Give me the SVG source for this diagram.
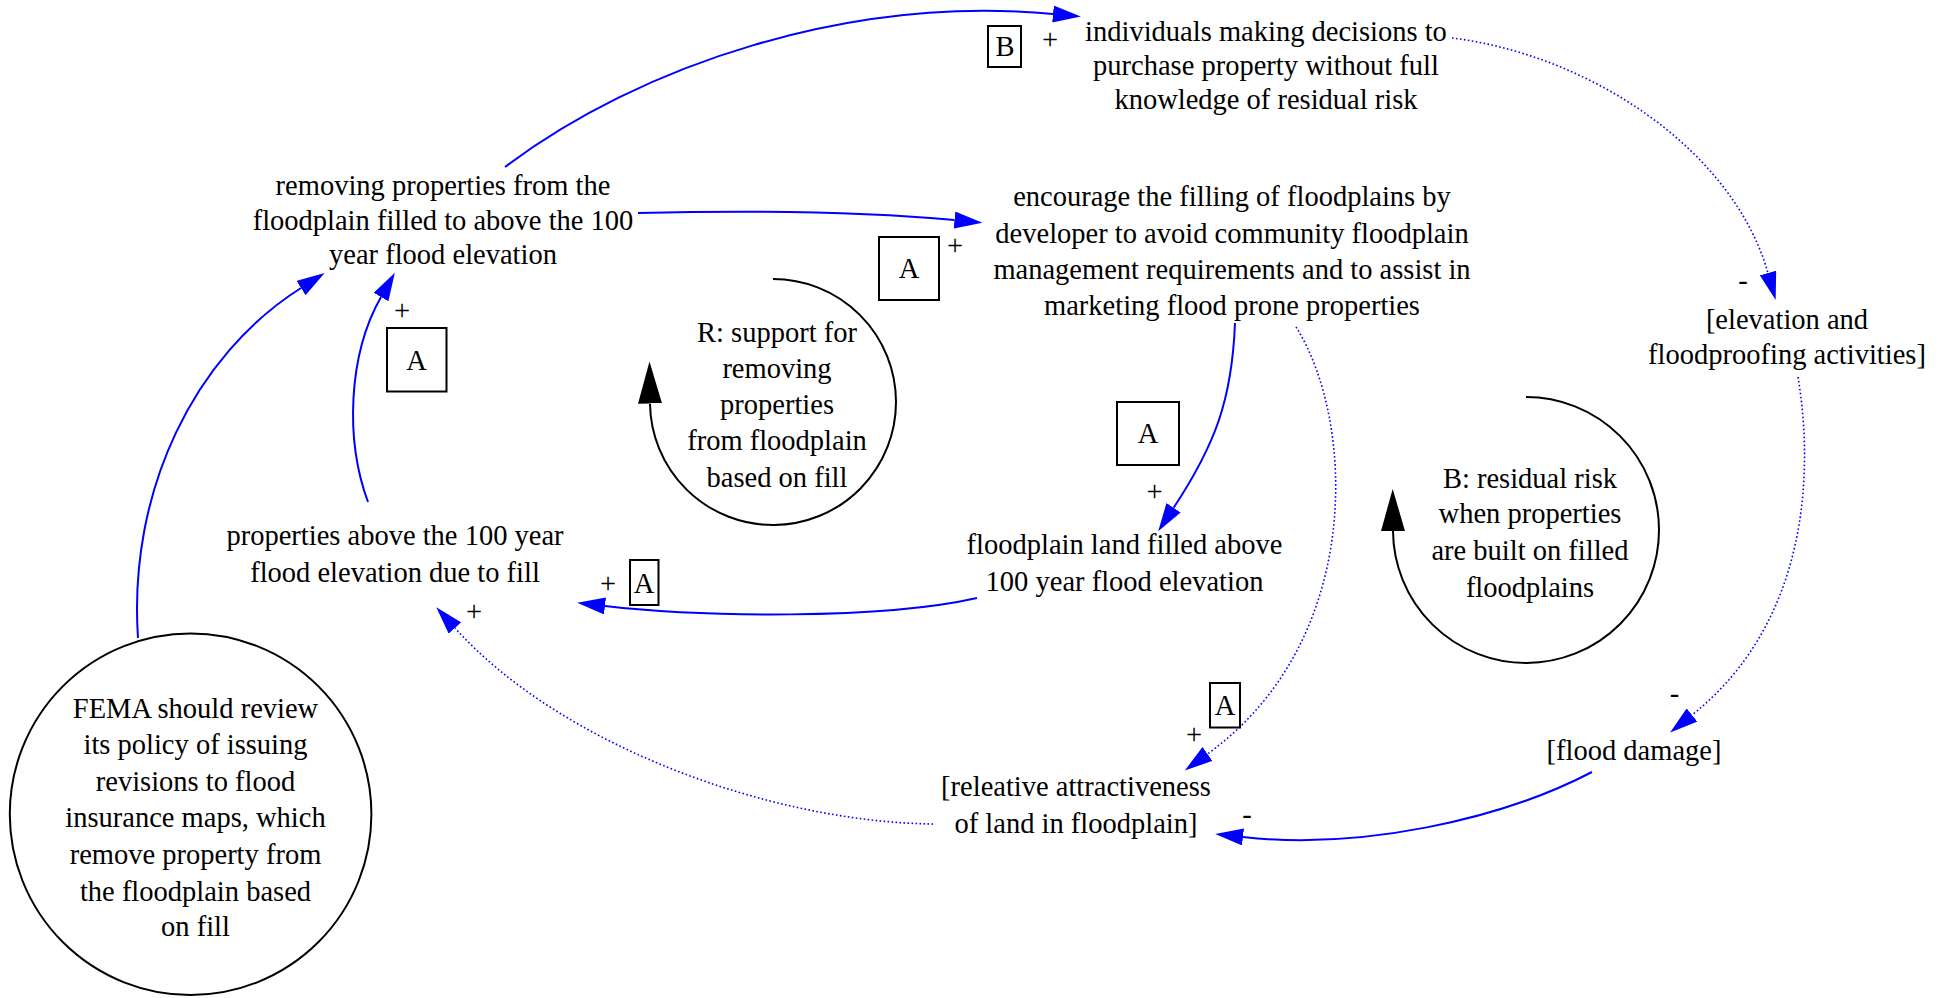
<svg xmlns="http://www.w3.org/2000/svg" width="1944" height="998" viewBox="0 0 1944 998">
<style>
text{font-family:"Liberation Serif","Times New Roman",serif;font-size:28.5px;fill:#000;text-anchor:middle}
.e{fill:none;stroke:#0000ff;stroke-width:2}
.d{fill:none;stroke:#0000ff;stroke-width:1.6;stroke-dasharray:1.6 2.4}
.loop{fill:none;stroke:#000;stroke-width:2}
.box{fill:none;stroke:#000;stroke-width:2}
</style>
<defs>
<marker id="ah" viewBox="0 0 28 17" refX="0" refY="8.5" markerWidth="28" markerHeight="17" markerUnits="userSpaceOnUse" orient="auto">
<path d="M0,0 L28,8.5 L0,17 z" fill="#0000ff"/>
</marker>
<marker id="lh" viewBox="0 0 42 24" refX="0" refY="12" markerWidth="42" markerHeight="24" markerUnits="userSpaceOnUse" orient="auto">
<path d="M0,0 L42,12 L0,24 z" fill="#000"/>
</marker>
</defs>
<rect width="1944" height="998" fill="#fff"/>

<g id="connectors">
<path id="e1" class="e" d="M505,167 C640,65 850,-5 1053,14" marker-end="url(#ah)"/>
<path id="e2" class="e" d="M638,213 C760,210 870,212 954.5,220" marker-end="url(#ah)"/>
<path id="e3" class="e" d="M138,638 C128,490 195,355 301,288" marker-end="url(#ah)"/>
<path id="e4" class="e" d="M368,502 C345,440 348,355 381,297" marker-end="url(#ah)"/>
<path id="e5" class="e" d="M977,598 C880,620 700,617 605,606" marker-end="url(#ah)"/>
<path id="e6" class="d" d="M933,824 C770,822 560,745 455,628" marker-end="url(#ah)"/>
<path id="e7" class="e" d="M1235,323 C1232,400 1215,445 1173.6,507.8" marker-end="url(#ah)"/>
<path id="e8" class="d" d="M1296,327 C1355,420 1365,640 1207.5,754" marker-end="url(#ah)"/>
<path id="e9" class="d" d="M1452,38 C1590,55 1733,150 1768,273" marker-end="url(#ah)"/>
<path id="e10" class="d" d="M1798,377 C1815,480 1805,625 1692,715" marker-end="url(#ah)"/>
<path id="e11" class="e" d="M1592,772 C1500,820 1360,850 1243,837" marker-end="url(#ah)"/>
</g>

<g id="labels">
<text x="1050" y="49">+</text>
<rect class="box" x="988" y="26" width="33" height="41"/>
<text x="1005" y="56">B</text>

<text x="955" y="255">+</text>
<rect class="box" x="879" y="237" width="60" height="63"/>
<text x="909" y="277.7">A</text>

<text x="402" y="320">+</text>
<rect class="box" x="387" y="328" width="59.5" height="63.5"/>
<text x="416.5" y="370">A</text>

<text x="608" y="593">+</text>
<rect class="box" x="630" y="560" width="28.5" height="45"/>
<text x="644" y="593">A</text>

<text x="474" y="621">+</text>

<text x="1154.5" y="501">+</text>
<rect class="box" x="1117" y="402" width="62" height="63"/>
<text x="1148" y="443">A</text>

<text x="1194" y="744">+</text>
<rect class="box" x="1210" y="683" width="30" height="44.5"/>
<text x="1225" y="715">A</text>

<text x="1743" y="290">-</text>
<text x="1674.5" y="703">-</text>
<text x="1247" y="824">-</text>
</g>

<g id="n1">
<text x="443" y="195">removing properties from the</text>
<text x="443" y="230">floodplain filled to above the 100</text>
<text x="443" y="264">year flood elevation</text>
</g>
<g id="n2">
<text x="1266" y="40.7">individuals making decisions to</text>
<text x="1266" y="74.8">purchase property without full</text>
<text x="1266" y="109">knowledge of residual risk</text>
</g>
<g id="n3">
<text x="1232" y="206">encourage the filling of floodplains by</text>
<text x="1232" y="242.5">developer to avoid community floodplain</text>
<text x="1232" y="279">management requirements and to assist in</text>
<text x="1232" y="315">marketing flood prone properties</text>
</g>
<g id="n4">
<text x="395" y="545">properties above the 100 year</text>
<text x="395" y="581.7">flood elevation due to fill</text>
</g>
<g id="n5">
<text x="1124.5" y="554">floodplain land filled above</text>
<text x="1124.5" y="590.7">100 year flood elevation</text>
</g>
<g id="n6">
<text x="1076" y="796">[releative attractiveness</text>
<text x="1076" y="832.7">of land in floodplain]</text>
</g>
<g id="n7">
<text x="1634" y="760">[flood damage]</text>
</g>
<g id="n8">
<text x="1787" y="328.5">[elevation and</text>
<text x="1787" y="364">floodproofing activities]</text>
</g>
<g id="n9">
<ellipse cx="190.6" cy="814.2" rx="180.8" ry="180.8" fill="none" stroke="#000" stroke-width="2"/>
<text x="195.5" y="717.7">FEMA should review</text>
<text x="195.5" y="754.3">its policy of issuing</text>
<text x="195.5" y="790.7">revisions to flood</text>
<text x="195.5" y="827.3">insurance maps, which</text>
<text x="195.5" y="864.3">remove property from</text>
<text x="195.5" y="900.7">the floodplain based</text>
<text x="195.5" y="936">on fill</text>
</g>
<g id="loopR">
<path class="loop" d="M773,279 A123,123 0 1,1 650,403.5" marker-end="url(#lh)"/>
<text x="777" y="341.7">R: support for</text>
<text x="777" y="378">removing</text>
<text x="777" y="414">properties</text>
<text x="777" y="450.4">from floodplain</text>
<text x="777" y="486.7">based on fill</text>
</g>
<g id="loopB">
<path class="loop" d="M1526,397 A133,133 0 1,1 1393,531" marker-end="url(#lh)"/>
<text x="1530" y="487.7">B: residual risk</text>
<text x="1530" y="523.3">when properties</text>
<text x="1530" y="560">are built on filled</text>
<text x="1530" y="596.7">floodplains</text>
</g>
</svg>
